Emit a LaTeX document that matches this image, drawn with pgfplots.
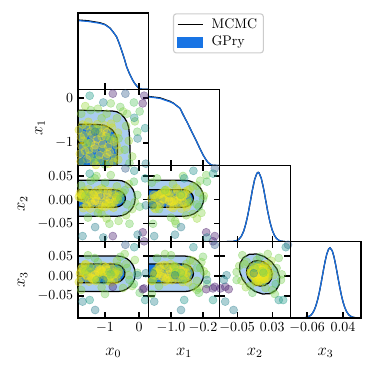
\documentclass[border=0pt]{standalone}
\usepackage{pgfplots}
\pgfplotsset{compat=1.18}
\usepackage{pgfplotstable}

\definecolor{gpblue}{HTML}{1874E4}
\definecolor{gplight}{HTML}{AACDF0}
\definecolor{diagblue}{HTML}{1A6FDF}

% evaluated points: x0 x1 x2 x3 and colour value (1 = best)
\pgfplotstableread{
x0 x1 x2 x3 c
-1.72 -1.41 0.004 0.010 0.98
-1.55 -0.62 -0.012 0.002 0.96
-1.31 -1.12 0.015 -0.008 0.97
-0.98 -0.85 -0.003 0.021 0.99
-0.71 -1.33 0.009 0.006 0.95
-1.64 -0.95 -0.018 0.015 0.94
-1.22 -0.58 0.020 -0.002 0.93
-0.88 -1.46 -0.007 -0.012 0.96
-1.45 -1.28 0.011 0.025 0.97
-0.62 -0.77 -0.001 0.004 0.92
-1.77 -0.71 0.006 -0.015 0.95
-1.08 -1.02 -0.015 0.012 1.00
-0.79 -0.66 0.017 0.018 0.94
-1.38 -0.81 -0.009 -0.006 0.98
-1.59 -1.18 0.001 0.028 0.96
-0.93 -1.24 0.013 -0.001 0.99
-1.18 -1.39 -0.020 0.008 0.93
-0.66 -1.05 0.005 -0.010 0.94
-1.49 -0.53 0.022 0.013 0.92
-1.02 -0.69 -0.006 0.001 0.98
-1.69 -1.07 0.010 0.019 0.97
-0.84 -0.93 -0.013 0.024 0.96
-1.27 -1.49 0.002 -0.013 0.95
-0.58 -1.17 0.016 0.009 0.93
-1.41 -0.99 -0.004 -0.004 0.99
-1.12 -0.78 0.008 0.016 1.00
-0.75 -1.42 -0.017 0.003 0.94
-1.62 -0.83 0.019 0.007 0.95
-0.97 -1.31 -0.010 0.022 0.97
-1.35 -0.64 0.012 -0.009 0.96
-0.69 -0.88 0.000 0.011 0.95
-1.53 -1.36 -0.014 0.000 0.98
-1.05 -1.13 0.021 0.026 0.94
-0.82 -0.57 -0.008 -0.016 0.93
-1.74 -1.24 0.014 0.005 0.97
-1.24 -0.92 -0.002 0.020 1.00
-0.61 -1.37 0.007 0.014 0.92
-1.43 -0.74 -0.019 0.009 0.95
-0.91 -1.08 0.018 -0.005 0.98
-1.16 -1.27 -0.011 0.017 0.99
-1.66 -0.59 0.003 0.023 0.94
-0.73 -0.97 -0.005 -0.011 0.96
-1.33 -1.43 0.010 0.002 0.97
-1.00 -0.61 -0.016 0.008 0.95
-1.57 -1.01 0.015 0.030 0.93
-0.86 -1.20 0.001 -0.003 0.99
-1.20 -0.70 0.009 0.012 0.98
-1.47 -1.15 -0.001 -0.014 0.96
-1.10 -0.86 0.024 0.006 0.94
-1.71 -0.87 0.012 -0.007 0.97
-1.29 -1.05 -0.003 0.004 1.00
-0.95 -0.76 0.006 0.015 0.99
-1.58 -0.18 0.008 0.012 0.85
-1.21 -0.24 -0.028 0.035 0.82
-0.83 -0.12 0.052 0.004 0.80
-0.47 -0.30 0.015 -0.030 0.84
-0.12 -0.52 -0.005 0.040 0.82
-0.30 -0.95 0.033 0.002 0.86
-0.20 -1.30 -0.020 -0.025 0.83
-1.42 -0.27 0.040 0.020 0.80
-0.95 -0.35 -0.040 -0.012 0.85
-0.55 -0.20 0.002 0.048 0.78
-0.05 -0.75 0.010 0.008 0.77
-0.38 -0.62 -0.033 0.030 0.84
-1.70 -0.35 0.030 -0.035 0.83
-0.87 -0.875 -0.051 0.010 0.80
-0.28 -1.45 -0.051 -0.010 0.78
-1.30 -1.35 0.045 0.045 0.79
-0.65 -0.45 0.028 0.038 0.86
-1.10 -0.45 -0.030 -0.028 0.84
-0.42 -1.15 0.020 0.055 0.81
0.02 -0.30 -0.015 -0.042 0.76
-1.50 -1.00 -0.038 0.052 0.80
-0.15 -0.10 0.038 -0.020 0.74
-1.00 -1.48 0.036 -0.045 0.79
-0.60 -0.90 -0.045 0.025 0.82
-1.25 -0.70 0.050 -0.010 0.80
-0.35 -0.35 -0.010 0.020 0.80
0.11 -0.12 -0.069 -0.033 0.05
-0.77 0.095 -0.077 -0.027 0.08
-0.40 0.095 0.066 0.078 0.30
-0.14 -0.44 0.061 0.072 0.50
-0.04 -0.90 -0.074 0.002 0.45
0.20 -1.46 -0.012 0.007 0.45
-1.29 -0.75 -0.058 -0.085 0.42
-1.66 -1.42 -0.077 -0.064 0.45
0.15 0.05 -0.088 -0.031 0.10
-1.05 -0.10 -0.080 -0.010 0.45
0.18 -0.67 0.045 -0.060 0.52
-1.45 0.05 0.055 -0.060 0.55
}\samples

% contours (x0,x1)
\pgfplotstableread{
x y
-1.9 -0.58
-1.45 -0.585
-1.16 -0.593
-1.023 -0.607
-0.895 -0.647
-0.785 -0.71
-0.701 -0.793
-0.648 -0.889
-0.63 -0.993
-0.635 -1.2
-0.65 -1.6
-1.9 -1.6
}\cAin
\pgfplotstableread{
x y
-1.9 -0.27
-1.3 -0.28
-0.775 -0.29
-0.648 -0.307
-0.53 -0.357
-0.429 -0.436
-0.351 -0.54
-0.302 -0.661
-0.285 -0.79
-0.265 -1.1
-0.25 -1.6
-1.9 -1.6
}\cAout
% (x0,x2)
\pgfplotstableread{
x y
-1.9 0.041
-0.63 0.041
-0.495 0.0397
-0.37 0.0359
-0.262 0.0299
-0.18 0.022
-0.128 0.0128
-0.11 0.003
-0.128 -0.0068
-0.18 -0.016
-0.262 -0.0239
-0.37 -0.0299
-0.495 -0.0337
-0.63 -0.035
-1.9 -0.035
}\cBout
\pgfplotstableread{
x y
-1.9 0.021
-0.72 0.021
-0.637 0.0204
-0.56 0.0185
-0.494 0.0156
-0.443 0.0118
-0.411 0.0073
-0.40 0.0025
-0.411 -0.0023
-0.443 -0.0068
-0.494 -0.0106
-0.56 -0.0135
-0.637 -0.0154
-0.72 -0.016
-1.9 -0.016
}\cBin
% (x1,x2)
\pgfplotstableread{
x y
-1.7 0.041
-0.665 0.041
-0.539 0.0397
-0.422 0.0359
-0.322 0.0299
-0.245 0.022
-0.197 0.0128
-0.18 0.003
-0.197 -0.0068
-0.245 -0.016
-0.322 -0.0239
-0.422 -0.0299
-0.539 -0.0337
-0.665 -0.035
-1.7 -0.035
}\cCout
\pgfplotstableread{
x y
-1.7 0.021
-0.71 0.021
-0.64 0.0204
-0.575 0.0185
-0.519 0.0156
-0.476 0.0118
-0.449 0.0073
-0.44 0.0025
-0.449 -0.0023
-0.476 -0.0068
-0.519 -0.0106
-0.575 -0.0135
-0.64 -0.0154
-0.71 -0.016
-1.7 -0.016
}\cCin
% (x0,x3)
\pgfplotstableread{
x y
-1.9 0.05
-0.63 0.05
-0.495 0.0485
-0.37 0.044
-0.262 0.037
-0.18 0.0278
-0.128 0.017
-0.11 0.0055
-0.128 -0.006
-0.18 -0.0168
-0.262 -0.026
-0.37 -0.033
-0.495 -0.0375
-0.63 -0.039
-1.9 -0.039
}\cDout
\pgfplotstableread{
x y
-1.9 0.03
-0.73 0.03
-0.647 0.0292
-0.57 0.0269
-0.504 0.0231
-0.453 0.018
-0.421 0.0126
-0.41 0.0065
-0.421 0.0004
-0.453 -0.005
-0.504 -0.0101
-0.57 -0.0139
-0.647 -0.0162
-0.73 -0.017
-1.9 -0.017
}\cDin
% (x1,x3)
\pgfplotstableread{
x y
-1.7 0.05
-0.665 0.05
-0.539 0.0485
-0.422 0.044
-0.322 0.037
-0.245 0.0278
-0.197 0.017
-0.18 0.0055
-0.197 -0.006
-0.245 -0.0168
-0.322 -0.026
-0.422 -0.033
-0.539 -0.0375
-0.665 -0.039
-1.7 -0.039
}\cEout
\pgfplotstableread{
x y
-1.7 0.03
-0.71 0.03
-0.64 0.0292
-0.575 0.0269
-0.519 0.0231
-0.476 0.018
-0.449 0.0126
-0.44 0.0065
-0.449 0.0004
-0.476 -0.005
-0.519 -0.0101
-0.575 -0.0139
-0.64 -0.0162
-0.71 -0.017
-1.7 -0.017
}\cEin
% (x2,x3)
\pgfplotstableread{
x y
0.0386 -0.0357
0.0462 -0.0211
0.0471 -0.0025
0.0410 0.0172
0.0289 0.0351
0.0126 0.0484
-0.0055 0.0550
-0.0224 0.0541
-0.0358 0.0457
-0.0435 0.0311
-0.0443 0.0125
-0.0382 -0.0072
-0.0261 -0.0251
-0.0098 -0.0384
0.0083 -0.0450
0.0252 -0.0441
0.0386 -0.0357
}\cFout
\pgfplotstableread{
x y
0.0225 -0.0171
0.0283 -0.0071
0.0298 0.0049
0.0270 0.0173
0.0201 0.0280
0.0103 0.0355
-0.0010 0.0387
-0.0120 0.0370
-0.0211 0.0307
-0.0269 0.0207
-0.0284 0.0087
-0.0256 -0.0037
-0.0187 -0.0144
-0.0089 -0.0219
0.0024 -0.0251
0.0134 -0.0234
0.0225 -0.0171
}\cFin

% 1D marginals
\pgfplotstableread{
x gp mc
-1.79 0.900 0.908
-1.50 0.890 0.898
-1.15 0.865 0.872
-1.00 0.845 0.850
-0.85 0.800 0.802
-0.75 0.745 0.745
-0.66 0.690 0.688
-0.58 0.600 0.598
-0.51 0.510 0.508
-0.43 0.400 0.398
-0.36 0.290 0.290
-0.28 0.205 0.205
-0.21 0.140 0.140
-0.14 0.085 0.085
-0.07 0.045 0.045
0.00 0.015 0.015
0.05 0.004 0.004
0.10 0.000 0.000
0.29 0.000 0.000
}\mA
\pgfplotstableread{
x gp mc
-1.556 0.900 0.905
-1.275 0.880 0.887
-1.025 0.835 0.842
-0.94 0.815 0.818
-0.775 0.750 0.750
-0.69 0.660 0.660
-0.60 0.570 0.570
-0.525 0.490 0.490
-0.44 0.400 0.400
-0.36 0.315 0.315
-0.28 0.225 0.225
-0.20 0.140 0.140
-0.13 0.080 0.080
-0.075 0.040 0.040
0.00 0.010 0.010
0.06 0.000 0.000
0.21 0.000 0.000
}\mB
\pgfplotstableread{
x gp
-0.090 0.000
-0.060 0.003
-0.050 0.017
-0.045 0.037
-0.040 0.075
-0.035 0.138
-0.030 0.235
-0.025 0.364
-0.020 0.519
-0.015 0.680
-0.010 0.815
-0.005 0.896
-0.002 0.910
0.000 0.904
0.005 0.836
0.010 0.709
0.015 0.552
0.020 0.394
0.025 0.258
0.030 0.155
0.035 0.085
0.040 0.043
0.045 0.020
0.050 0.008
0.060 0.001
0.0712 0.000
}\mC
\pgfplotstableread{
x gp
-0.1065 0.000
-0.070 0.002
-0.060 0.009
-0.050 0.034
-0.045 0.060
-0.040 0.102
-0.035 0.164
-0.030 0.248
-0.025 0.355
-0.020 0.479
-0.015 0.611
-0.010 0.737
-0.005 0.839
0.000 0.903
0.004 0.920
0.010 0.883
0.015 0.802
0.020 0.688
0.025 0.558
0.030 0.428
0.035 0.310
0.040 0.212
0.045 0.137
0.050 0.084
0.055 0.048
0.060 0.026
0.065 0.014
0.070 0.007
0.080 0.001
0.090 0.000
}\mD

\pgfplotsset{
  corner/.style={scale only axis, width=50.94pt, height=54.9pt, anchor=north west,
    axis line style={line width=1pt}, major tick length=4.3pt,
    every tick/.style={black, line width=0.8pt},
    scaled ticks=false,
    tick label style={font=\fontsize{10}{12}\selectfont},
    label style={font=\fontsize{12}{14}\selectfont},
    xlabel style={at={(axis description cs:0.5,-0.46)}, anchor=center},
    axis on top},
  twod/.style={corner, point meta min=0, point meta max=1, colormap/viridis},
  diag/.style={corner, ymin=0, ymax=1, ytick=\empty, xtick pos=left},
  col0/.style={xmin=-1.794, xmax=0.287, xtick={-1,0}},
  col1/.style={xmin=-1.556, xmax=0.2125, xtick={-1.0,-0.2}},
  col2/.style={xmin=-0.09, xmax=0.0712, xtick={-0.05,0.03}},
  col3/.style={xmin=-0.1065, xmax=0.09, xtick={-0.06,0.04}},
  row1/.style={ymin=-1.5, ymax=0.194, ytick={-1,0}},
  row2/.style={ymin=-0.089, ymax=0.0722, ytick={-0.05,0,0.05}},
  row3/.style={ymin=-0.105, ymax=0.0856, ytick={-0.05,0,0.05}},
  pts/.style={scatter, only marks, mark=*, mark size=2.9pt, scatter src=explicit,
    scatter/use mapped color={draw=mapped color, fill=mapped color},
    mark options={fill opacity=0.38, draw opacity=0.42, line width=0.4pt}},
  mcmc/.style={black, line width=0.9pt},
}

\begin{document}
\begin{tikzpicture}
\path[use as bounding box] (0,0) rectangle (269.28pt,-269.28pt);

% ---- row 0
\begin{axis}[diag, col0, at={(56.16pt,-9.36pt)}, xticklabels={},
  legend style={at={(1.342,0.996)}, anchor=north west, draw=black!20, line width=0.8pt,
    rounded corners=2pt, font=\fontsize{10}{12}\selectfont, cells={anchor=west},
    inner xsep=2.5pt, inner ysep=1.5pt,
    /tikz/every odd column/.append style={column sep=4pt}}]
\addlegendimage{legend image code/.code={\draw[black, line width=0.9pt, sharp corners] (0pt,0pt) -- (18pt,0pt);}}
\addlegendentry{MCMC}
\addlegendimage{legend image code/.code={\fill[gpblue, sharp corners] (0pt,-3.5pt) rectangle (18pt,3.5pt);}}
\addlegendentry{GPry}
\addplot[mcmc, forget plot] table[x=x, y=mc] {\mA};
\addplot[diagblue, line width=0.9pt, forget plot] table[x=x, y=gp] {\mA};
\end{axis}

% ---- row 1
\begin{axis}[twod, col0, row1, at={(56.16pt,-64.26pt)}, xticklabels={},
  yticklabels={$-1$,$0$}, ylabel={$x_1$},
  ylabel style={at={(axis description cs:-0.537,0.5)}, anchor=center}]
\addplot[fill=gplight, draw=none] table {\cAout};
\addplot[fill=gpblue, draw=none] table {\cAin};
\addplot[pts] table[x=x0, y=x1, meta=c] {\samples};
\addplot[mcmc] table {\cAin};
\addplot[mcmc] table {\cAout};
\end{axis}
\begin{axis}[diag, col1, at={(107.1pt,-64.26pt)}, xticklabels={}]
\addplot[mcmc] table[x=x, y=mc] {\mB};
\addplot[diagblue, line width=0.9pt] table[x=x, y=gp] {\mB};
\end{axis}

% ---- row 2
\begin{axis}[twod, col0, row2, at={(56.16pt,-119.16pt)}, xticklabels={},
  yticklabels={$-0.05$,$0.00$,$0.05$}, ylabel={$x_2$},
  ylabel style={at={(axis description cs:-0.784,0.5)}, anchor=center}]
\addplot[fill=gplight, draw=none] table {\cBout};
\addplot[fill=gpblue, draw=none] table {\cBin};
\addplot[pts] table[x=x0, y=x2, meta=c] {\samples};
\addplot[mcmc] table {\cBin};
\addplot[mcmc] table {\cBout};
\end{axis}
\begin{axis}[twod, col1, row2, at={(107.1pt,-119.16pt)}, xticklabels={}, yticklabels={}]
\addplot[fill=gplight, draw=none] table {\cCout};
\addplot[fill=gpblue, draw=none] table {\cCin};
\addplot[pts] table[x=x1, y=x2, meta=c] {\samples};
\addplot[mcmc] table {\cCin};
\addplot[mcmc] table {\cCout};
\end{axis}
\begin{axis}[diag, col2, at={(158.04pt,-119.16pt)}, xticklabels={}]
\addplot[mcmc] table[x=x, y=gp] {\mC};
\addplot[diagblue, line width=0.9pt] table[x=x, y=gp] {\mC};
\end{axis}

% ---- row 3
\begin{axis}[twod, col0, row3, at={(56.16pt,-174.06pt)},
  xticklabels={$-1$,$0$}, xlabel={$x_0$},
  yticklabels={$-0.05$,$0.00$,$0.05$}, ylabel={$x_3$},
  ylabel style={at={(axis description cs:-0.784,0.5)}, anchor=center}]
\addplot[fill=gplight, draw=none] table {\cDout};
\addplot[fill=gpblue, draw=none] table {\cDin};
\addplot[pts] table[x=x0, y=x3, meta=c] {\samples};
\addplot[mcmc] table {\cDin};
\addplot[mcmc] table {\cDout};
\end{axis}
\begin{axis}[twod, col1, row3, at={(107.1pt,-174.06pt)},
  xticklabels={$-1.0$,$-0.2$}, xlabel={$x_1$}, yticklabels={}]
\addplot[fill=gplight, draw=none] table {\cEout};
\addplot[fill=gpblue, draw=none] table {\cEin};
\addplot[pts] table[x=x1, y=x3, meta=c] {\samples};
\addplot[mcmc] table {\cEin};
\addplot[mcmc] table {\cEout};
\end{axis}
\begin{axis}[twod, col2, row3, at={(158.04pt,-174.06pt)},
  xticklabels={$-0.05$,$0.03$}, xlabel={$x_2$}, yticklabels={}]
\addplot[fill=gplight, draw=none] table {\cFout};
\addplot[fill=gpblue, draw=none] table {\cFin};
\addplot[pts] table[x=x2, y=x3, meta=c] {\samples};
\addplot[mcmc] table {\cFin};
\addplot[mcmc] table {\cFout};
\end{axis}
\begin{axis}[diag, col3, at={(208.98pt,-174.06pt)},
  xticklabels={$-0.06$,$0.04$}, xlabel={$x_3$}]
\addplot[mcmc] table[x=x, y=gp] {\mD};
\addplot[diagblue, line width=0.9pt] table[x=x, y=gp] {\mD};
\end{axis}
\end{tikzpicture}
\end{document}
